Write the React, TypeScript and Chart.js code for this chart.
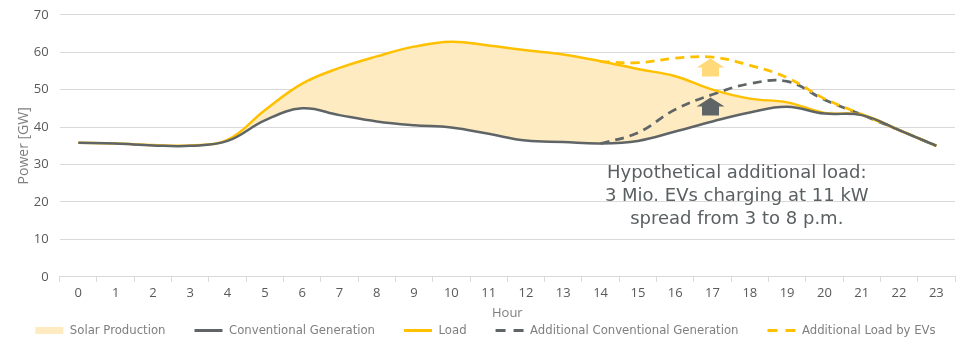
import React, { useEffect, useRef } from 'react';
import { Chart, registerables } from 'chart.js';

Chart.register(...registerables);

const HOURS = ['0', '1', '2', '3', '4', '5', '6', '7', '8', '9', '10', '11', '12', '13', '14', '15', '16', '17', '18', '19', '20', '21', '22', '23'];

const LOAD = [35.8, 35.6, 35.2, 35.1, 36.6, 44.5, 51.6, 55.8, 58.9, 61.5, 62.8, 61.8, 60.5, 59.4, 57.6, 55.5, 53.6, 50.0, 47.6, 46.6, 43.8, 43.3, 39.2, 35.0];
const CONVENTIONAL = [35.8, 35.6, 35.1, 35.0, 36.3, 41.8, 45.0, 43.2, 41.5, 40.5, 39.9, 38.2, 36.4, 36.0, 35.6, 36.3, 38.8, 41.5, 43.9, 45.4, 43.6, 43.2, 39.2, 35.0];
const ADD_CONVENTIONAL = [null, null, null, null, null, null, null, null, null, null, null, null, null, null, 35.6, 38.5, 44.7, 48.7, 51.6, 52.2, 47.3, 43.3, 39.2, 35.0];
const ADD_LOAD = [null, null, null, null, null, null, null, null, null, null, null, null, null, null, 57.5, 57.2, 58.4, 58.7, 56.5, 53.2, 47.6, 43.4, 39.2, 35.0];

const SERIES_NAMES = ['Solar Production', 'Conventional Generation', 'Load', 'Additional Conventional Generation', 'Additional Load by EVs'];

const Y_MIN = 0;
const Y_MAX = 70;
const Y_STEP = 10;

const ANNOTATION_LINES = ['Hypothetical additional load:', '3 Mio. EVs charging at 11 kW', 'spread from 3 to 8 p.m.'];
const ANNOTATION_ANCHOR = { hour: 17.65, value: 26.3 };

const ARROWS = [
  { hour: 17, value: 58.3, color: '#FFD97A' },
  { hour: 17, value: 47.9, color: '#5F6566' },
];

const YELLOW = '#FFC000';
const GREY = '#5F6566';
const SOLAR_FILL = '#FEEBC1';
const LEGEND_PAD = '\u00A0\u00A0\u00A0\u00A0\u00A0\u00A0\u00A0';

const arrowsPlugin = {
  id: 'arrows',
  afterDatasetsDraw(chart: any) {
    const { ctx, scales } = chart;
    const x0 = scales.x;
    const y0 = scales.y;
    ARROWS.forEach((a) => {
      const cx = x0.getPixelForValue(a.hour) - 2;
      const top = y0.getPixelForValue(a.value);
      ctx.save();
      ctx.fillStyle = a.color;
      ctx.beginPath();
      ctx.moveTo(cx, top);
      ctx.lineTo(cx + 14, top + 9);
      ctx.lineTo(cx + 8.5, top + 9);
      ctx.lineTo(cx + 8.5, top + 18);
      ctx.lineTo(cx - 8.5, top + 18);
      ctx.lineTo(cx - 8.5, top + 9);
      ctx.lineTo(cx - 14, top + 9);
      ctx.closePath();
      ctx.fill();
      ctx.restore();
    });
    const ax = x0.getPixelForValue(ANNOTATION_ANCHOR.hour);
    const ay = y0.getPixelForValue(ANNOTATION_ANCHOR.value);
    ctx.save();
    ctx.font = "18px 'DejaVu Sans'";
    ctx.fillStyle = '#5A6062';
    ctx.textAlign = 'center';
    ctx.textBaseline = 'alphabetic';
    ANNOTATION_LINES.forEach((line, i) => {
      ctx.fillText(line, ax, ay + i * 23);
    });
    ctx.restore();
  },
};

export default function App() {
  const canvasRef = useRef<HTMLCanvasElement | null>(null);

  useEffect(() => {
    if (!canvasRef.current) return;
    Chart.defaults.font.family = "'Open Sans', sans-serif";
    Chart.defaults.color = '#595959';

    const legendStyles = [
      { fill: SOLAR_FILL, dash: [] as number[], width: 0, style: 'rect' },
      { fill: GREY, dash: [] as number[], width: 3, style: 'line' },
      { fill: YELLOW, dash: [] as number[], width: 3, style: 'line' },
      { fill: GREY, dash: [10, 8], width: 3, style: 'line' },
      { fill: YELLOW, dash: [10, 8], width: 3, style: 'line' },
    ];

    const chart = new Chart(canvasRef.current, {
      type: 'line',
      data: {
        labels: HOURS,
        datasets: [
          {
            label: SERIES_NAMES[0],
            data: LOAD,
            borderWidth: 0,
            borderColor: 'rgba(0,0,0,0)',
            backgroundColor: SOLAR_FILL,
            fill: 1,
            pointRadius: 0,
            tension: 0.4,
            order: 10,
          },
          {
            label: SERIES_NAMES[1],
            data: CONVENTIONAL,
            borderColor: GREY,
            borderWidth: 2.5,
            pointRadius: 0,
            tension: 0.4,
            fill: false,
            order: 1,
          },
          {
            label: SERIES_NAMES[2],
            data: LOAD,
            borderColor: YELLOW,
            borderWidth: 2.5,
            pointRadius: 0,
            tension: 0.4,
            fill: false,
            order: 2,
          },
          {
            label: SERIES_NAMES[3],
            data: ADD_CONVENTIONAL,
            borderColor: GREY,
            borderWidth: 2.75,
            borderDash: [9, 6],
            pointRadius: 0,
            tension: 0.4,
            fill: false,
            order: 4,
          },
          {
            label: SERIES_NAMES[4],
            data: ADD_LOAD,
            borderColor: YELLOW,
            borderWidth: 2.75,
            borderDash: [9, 6],
            pointRadius: 0,
            tension: 0.4,
            fill: false,
            order: 3,
          },
        ],
      },
      options: {
        animation: false,
        responsive: true,
        maintainAspectRatio: false,
        layout: { padding: { left: 8, right: 5, top: 0, bottom: 0 } },
        plugins: {
          tooltip: { enabled: false },
          legend: {
            position: 'bottom',
            labels: {
              usePointStyle: true,
              pointStyleWidth: 28,
              boxHeight: 7,
              padding: 3,
              color: '#7F7F7F',
              font: { family: "'DejaVu Sans Condensed', 'DejaVu Sans', sans-serif", size: 13 },
              generateLabels: (ch: any) =>
                ch.data.datasets.map((ds: any, i: number) => ({
                  text: ds.label + (i < ch.data.datasets.length - 1 ? LEGEND_PAD : ''),
                  datasetIndex: i,
                  fillStyle: legendStyles[i].fill,
                  strokeStyle: legendStyles[i].fill,
                  lineWidth: legendStyles[i].width,
                  lineDash: legendStyles[i].dash,
                  lineCap: 'butt',
                  pointStyle: legendStyles[i].style,
                  fontColor: '#7F7F7F',
                  hidden: false,
                })),
            },
          },
        },
        scales: {
          x: {
            type: 'category',
            offset: true,
            grid: {
              display: true,
              drawOnChartArea: false,
              drawTicks: true,
              tickLength: 5,
              offset: true,
              color: '#D9D9D9',
            },
            border: { display: true, color: '#D9D9D9' },
            ticks: { color: '#595959', font: { size: 13 }, padding: 4, maxRotation: 0, autoSkip: false },
            title: {
              display: true,
              text: 'Hour',
              color: '#7F7F7F',
              font: { size: 13 },
              padding: { top: 0, bottom: 0 },
            },
          },
          y: {
            min: Y_MIN,
            max: Y_MAX,
            grid: { color: '#D9D9D9', drawTicks: false },
            border: { display: false },
            ticks: { stepSize: Y_STEP, color: '#595959', font: { size: 13 }, padding: 11 },
            title: {
              display: true,
              text: 'Power [GW]',
              color: '#7F7F7F',
              font: { size: 14 },
              padding: { top: 0, bottom: -10 },
            },
          },
        },
      },
      plugins: [arrowsPlugin],
    } as any);

    return () => chart.destroy();
  }, []);

  return (
    <div style={{ position: 'absolute', left: '8px', top: '-4px', width: '952px', height: '351px' }}>
      <canvas ref={canvasRef} />
    </div>
  );
}
